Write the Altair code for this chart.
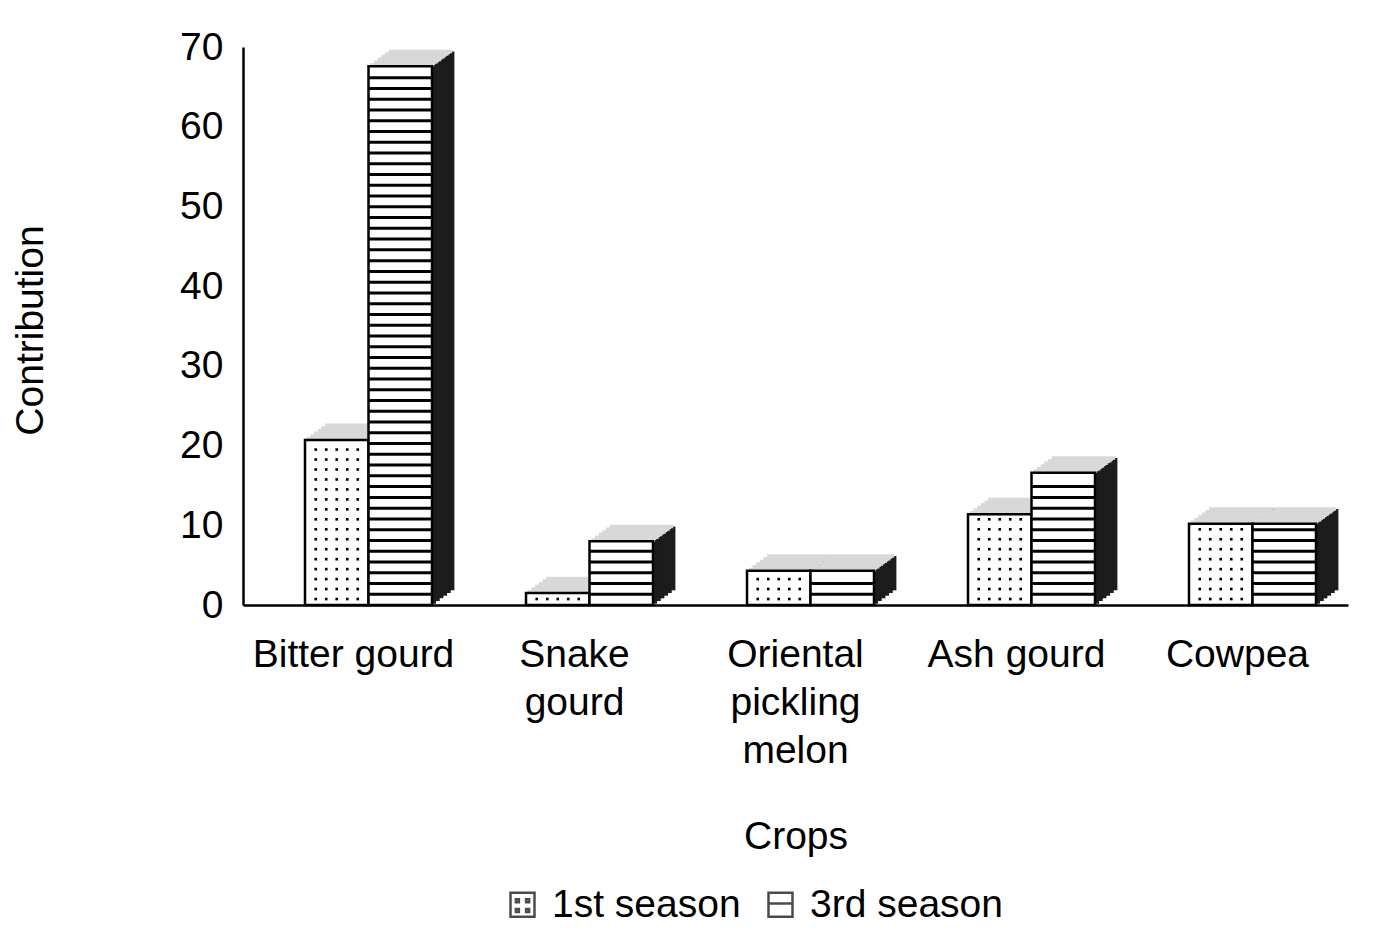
import altair as alt
import pandas as pd

# ---------------- data ----------------
crops = ["Bitter gourd", "Snake gourd", "Oriental pickling melon", "Ash gourd", "Cowpea"]
seasons = ["1st season", "3rd season"]
first_season = [20.7, 1.5, 4.3, 11.4, 10.2]
third_season = [67.6, 8.0, 4.3, 16.6, 10.2]
y_ticks = [0, 10, 20, 30, 40, 50, 60, 70]
label_lines = {
    "Snake gourd": ["Snake", "gourd"],
    "Oriental pickling melon": ["Oriental", "pickling", "melon"],
}

# ---------------- styles ----------------
FONT = "Liberation Sans"
FS = 39
W, H = 1105, 558
SUB0, SUB1 = 62, 189     # pixel span of the two bars inside each crop band
FRONT_W = (SUB1 - SUB0) / 2
DX, DY = 22, 16          # 3D depth of the boxes
N = 6                    # slices used to draw the slanted faces
STRIPE_STEP = 1.35       # pattern spacing in value units
DOT_STEP = 1.25

rows = []
for c, a, b in zip(crops, first_season, third_season):
    rows.append({"crop": c, "season": seasons[0], "value": a})
    rows.append({"crop": c, "season": seasons[1], "value": b})
bars = pd.DataFrame(rows)
bars_first = bars[bars["season"] == seasons[0]]

# pattern tables built from the values above
stripe_rows, dot_rows = [], []
for c, a, b in zip(crops, first_season, third_season):
    k = 1
    while k * STRIPE_STEP < b - 0.4:
        stripe_rows.append({"crop": c, "season": seasons[1], "value": k * STRIPE_STEP})
        k += 1
    k = 0
    while 0.75 + k * DOT_STEP < a - 0.4:
        dot_rows.append({"crop": c, "season": seasons[0], "value": 0.75 + k * DOT_STEP})
        k += 1
stripes = pd.DataFrame(stripe_rows)
dots = pd.DataFrame(dot_rows)

expr = "datum.label"
for k, v in label_lines.items():
    arr = "[" + ",".join("'%s'" % s for s in v) + "]"
    expr = "datum.label == '%s' ? %s : (%s)" % (k, arr, expr)

X = alt.X(
    "crop:N", sort=crops, title="Crops",
    scale=alt.Scale(paddingInner=0, paddingOuter=0),
    axis=alt.Axis(
        labelAngle=0, labelFont=FONT, labelFontSize=FS, labelColor="black",
        labelLineHeight=48, labelPadding=30, ticks=False, labelExpr=expr, labelLimit=0,
        domainColor="black", domainWidth=2.5,
        titleFont=FONT, titleFontSize=FS, titleFontWeight="normal", titleColor="black",
        titleBaseline="alphabetic", titleY=243,
    ),
)


def XO(shift=0.0):
    return alt.XOffset(
        "season:N",
        scale=alt.Scale(domain=seasons, range=[SUB0 + shift, SUB1 + shift],
                        paddingInner=0, paddingOuter=0),
    )


Y = alt.Y(
    "value:Q", title="Contribution",
    scale=alt.Scale(domain=[0, 70], nice=False, zero=True),
    axis=alt.Axis(
        values=y_ticks, grid=False, ticks=False, labelPadding=20,
        labelFont=FONT, labelFontSize=FS, labelColor="black",
        domainColor="black", domainWidth=2.5,
        titleFont=FONT, titleFontSize=FS, titleFontWeight="normal", titleColor="black",
        titleX=-213, titleY=283, titleBaseline="middle",
    ),
)

layers = []

# legend-carrying layer (placed at the base, hidden behind the front faces)
legend_layer = alt.Chart(bars_first).mark_point(color="black", filled=False, yOffset=-6, size=12).encode(
    x=X, xOffset=XO(FRONT_W / 2), y=alt.datum(0),
    shape=alt.Shape(
        "season:N",
        scale=alt.Scale(
            domain=seasons,
            range=[
                "M-1,-1H1V1H-1Z M-0.55,-0.45h0.25v0.25h-0.25Z M0.3,-0.45h0.25v0.25h-0.25Z M-0.55,0.35h0.25v0.25h-0.25Z M0.3,0.35h0.25v0.25h-0.25Z",
                "M-1,-1H1V1H-1Z M-1,-0.1H1",
            ],
        ),
        legend=alt.Legend(
            title=None, orient="none", legendX=260, legendY=838, direction="horizontal",
            labelFont=FONT, labelFontSize=FS, labelColor="black", labelLimit=0,
            symbolSize=576, symbolStrokeWidth=2.5, symbolFillColor="white",
            symbolStrokeColor="black", labelOffset=10, columnPadding=20, padding=0,
        ),
    ),
)
layers.append(legend_layer)

# side faces (dark)
sw = DX / N
for i in range(N):
    layers.append(
        alt.Chart(bars).mark_bar(
            width=sw + 0.8, color="#1c1c1c",
            yOffset=-DY * (i + 0.5) / N,
        ).encode(x=X, xOffset=XO(FRONT_W / 2 + sw * (i + 0.5)), y=Y)
    )
# top faces (light)
for i in range(N):
    layers.append(
        alt.Chart(bars).mark_tick(
            size=FRONT_W, thickness=DY / N + 0.8, color="#d8d8d8", opacity=1,
            yOffset=-DY * (i + 0.5) / N,
        ).encode(x=X, xOffset=XO(DX * (i + 0.5) / N), y=Y)
    )
# front faces
layers.append(
    alt.Chart(bars).mark_bar(fill="white", stroke="black", strokeWidth=2.5).encode(
        x=X, xOffset=XO(), y=Y
    )
)
# horizontal stripes for the 3rd season
layers.append(
    alt.Chart(stripes).mark_tick(size=FRONT_W, thickness=3, color="black", opacity=1).encode(
        x=X, xOffset=XO(), y=Y
    )
)
# dots for the 1st season
for dx in [-21, -10.5, 0, 10.5, 21]:
    layers.append(
        alt.Chart(dots).mark_square(size=7, color="black", opacity=1).encode(
            x=X, xOffset=XO(FRONT_W / 2 + dx), y=Y
        )
    )

chart = (
    alt.layer(*layers)
    .resolve_scale(xOffset="independent")
    .properties(
        width=W, height=H,
        autosize=alt.AutoSizeParams(type="none"),
        padding={"left": 235, "top": 39, "right": 37, "bottom": 319},
        background="white",
    )
    .configure_view(strokeWidth=0)
)

chart.save("out.html", embed_options={"renderer": "svg", "actions": False})
